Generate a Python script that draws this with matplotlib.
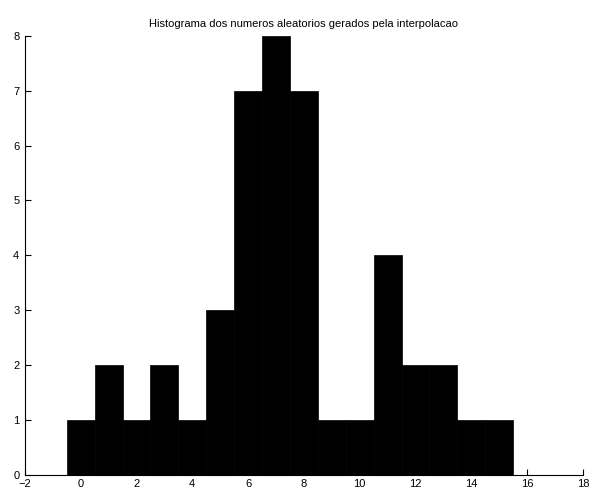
import numpy as np
import matplotlib.pyplot as plt

plt.rcParams['font.family'] = ['Liberation Sans', 'DejaVu Sans']

centros = [0, 1, 2, 3, 4, 5, 6, 7, 8, 9, 10, 11, 12, 13, 14, 15]
contagens = [1, 2, 1, 2, 1, 3, 7, 8, 7, 1, 1, 4, 2, 2, 1, 1]
xticks = [-2, 0, 2, 4, 6, 8, 10, 12, 14, 16, 18]
yticks = [0, 1, 2, 3, 4, 5, 6, 7, 8]

fig = plt.figure(figsize=(5.93, 4.9), dpi=100)
ax = fig.add_axes([0.042, 0.031, 0.941, 0.896])

ax.bar(centros, contagens, width=1.0, color='black', edgecolor='black', linewidth=0.5)

ax.set_xlim(-2, 18)
ax.set_ylim(0, 8)
ax.set_xticks(xticks)
ax.set_yticks(yticks)
ax.tick_params(direction='in', length=4, labelsize=8)
ax.tick_params(axis='x', pad=3)
ax.tick_params(axis='y', pad=4)
ax.spines['top'].set_visible(False)
ax.spines['right'].set_visible(False)
ax.set_title('Histograma dos numeros aleatorios gerados pela interpolacao', fontsize=8, pad=6)

fig.savefig('out.png', dpi=100)
